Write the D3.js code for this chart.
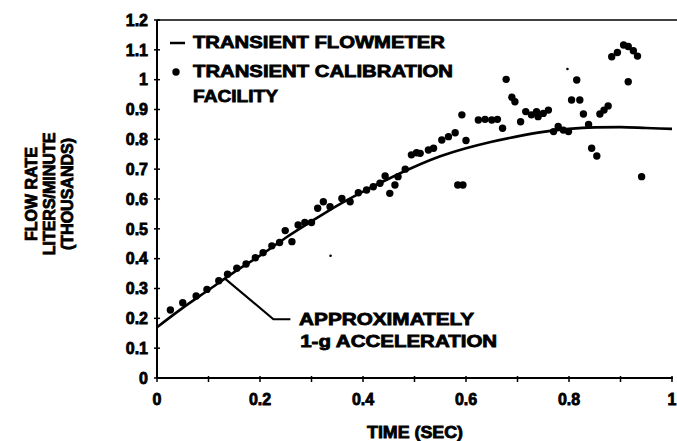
<!DOCTYPE html>
<html>
<head>
<meta charset="utf-8">
<script src="https://cdn.jsdelivr.net/npm/d3@7"></script>
<style>
  body { margin: 0; background: #fff; }
  text { font-family: "Liberation Sans", Arial, sans-serif; font-weight: bold; fill: #000; }
  .heavy { stroke: #000; stroke-width: 0.8px; }
</style>
</head>
<body>
<script>
// flowmeter curve (time in sec, flow in thousands l/min)
var fmTime = [0, 0.05, 0.1, 0.15, 0.2, 0.25, 0.3, 0.35, 0.4, 0.45, 0.5,
              0.55, 0.6, 0.65, 0.7, 0.75, 0.8, 0.85, 0.9, 0.95, 1.0];
var fmFlow = [0.17, 0.235, 0.295, 0.355, 0.41, 0.47, 0.525, 0.578, 0.625, 0.668, 0.708,
              0.743, 0.77, 0.792, 0.81, 0.825, 0.835, 0.84, 0.841, 0.838, 0.835];

// calibration facility samples
var calTime = [0.026, 0.050, 0.076, 0.097, 0.120, 0.137, 0.155, 0.173, 0.191, 0.206,
               0.223, 0.238, 0.249, 0.262, 0.274, 0.287, 0.300, 0.312, 0.323, 0.336,
               0.359, 0.375, 0.391, 0.407, 0.420, 0.433, 0.443, 0.452, 0.462, 0.468,
               0.482, 0.494, 0.504, 0.511, 0.527, 0.537, 0.553, 0.566, 0.579, 0.584,
               0.592, 0.594, 0.600, 0.624, 0.637, 0.650, 0.661, 0.671, 0.678, 0.689,
               0.695, 0.706, 0.716, 0.727, 0.737, 0.740, 0.750, 0.760, 0.770, 0.779,
               0.789, 0.799, 0.805, 0.815, 0.821, 0.828, 0.838, 0.844, 0.854, 0.860,
               0.868, 0.876, 0.883, 0.894, 0.906, 0.915, 0.925, 0.933, 0.915, 0.941];
var calFlow = [0.228, 0.252, 0.275, 0.297, 0.326, 0.348, 0.368, 0.382, 0.403, 0.420,
               0.443, 0.454, 0.494, 0.457, 0.513, 0.521, 0.521, 0.569, 0.591, 0.574,
               0.602, 0.591, 0.621, 0.630, 0.641, 0.653, 0.677, 0.619, 0.647, 0.675,
               0.700, 0.748, 0.755, 0.753, 0.764, 0.770, 0.798, 0.809, 0.822, 0.647,
               0.882, 0.647, 0.796, 0.865, 0.867, 0.865, 0.867, 0.837, 1.001, 0.941,
               0.926, 0.859, 0.893, 0.882, 0.893, 0.876, 0.887, 0.898, 0.826, 0.843,
               0.831, 0.826, 0.932, 0.999, 0.932, 0.885, 0.850, 0.770, 0.744, 0.885,
               0.898, 0.912, 1.077, 1.091, 1.116, 1.111, 1.097, 1.079, 0.993, 0.675];

// tiny specks in the scan
var speckTime = [0.337, 0.797];
var speckFlow = [0.41, 1.036];

var yTicks = [0, 0.1, 0.2, 0.3, 0.4, 0.5, 0.6, 0.7, 0.8, 0.9, 1, 1.1, 1.2];
var xTicks = [0, 0.1, 0.2, 0.3, 0.4, 0.5, 0.6, 0.7, 0.8, 0.9, 1];
var xLabels = [0, 0.2, 0.4, 0.6, 0.8, 1];

var margin = {top: 20, right: 5, bottom: 63, left: 157},
    width = 677 - margin.left - margin.right,
    height = 441 - margin.top - margin.bottom;

var svg = d3.select("body").append("svg")
    .attr("width", 677)
    .attr("height", 441);

var g = svg.append("g")
    .attr("transform", "translate(" + margin.left + "," + margin.top + ")");

var x = d3.scaleLinear().domain([0, 1]).range([0, 515]);
var y = d3.scaleLinear().domain([0, 1.2]).range([height, 0]);
var fmt = function(d) { return d3.format("~g")(d); };

// axes frame: left, bottom, top
g.append("line").attr("x1", 0).attr("x2", 0).attr("y1", 0).attr("y2", height)
    .attr("stroke", "#000").attr("stroke-width", 2);
g.append("line").attr("x1", 0).attr("x2", x(1) + 1).attr("y1", height).attr("y2", height)
    .attr("stroke", "#000").attr("stroke-width", 2);
g.append("line").attr("x1", 0).attr("x2", width + 5).attr("y1", 0).attr("y2", 0)
    .attr("stroke", "#000").attr("stroke-width", 1.5);

// y ticks
g.append("g").selectAll("line")
    .data(yTicks).enter().append("line")
    .attr("x1", -3).attr("x2", 3)
    .attr("y1", function(d) { return y(d); })
    .attr("y2", function(d) { return y(d); })
    .attr("stroke", "#000").attr("stroke-width", 1.5);

g.append("g").selectAll("text")
    .data(yTicks).enter().append("text")
    .attr("class", "heavy")
    .attr("x", -9)
    .attr("y", function(d) { return y(d); })
    .attr("dy", "0.36em")
    .attr("text-anchor", "end")
    .attr("font-size", "16px")
    .text(fmt);

// x ticks
g.append("g").selectAll("line")
    .data(xTicks).enter().append("line")
    .attr("x1", function(d) { return x(d); })
    .attr("x2", function(d) { return x(d); })
    .attr("y1", height - 2).attr("y2", height + 4)
    .attr("stroke", "#000").attr("stroke-width", 1.5);

g.append("g").selectAll("text")
    .data(xLabels).enter().append("text")
    .attr("class", "heavy")
    .attr("x", function(d) { return x(d); })
    .attr("y", height + 27)
    .attr("text-anchor", "middle")
    .attr("font-size", "16px")
    .text(fmt);

// axis titles
svg.append("text")
    .attr("class", "heavy")
    .attr("x", 415).attr("y", 438)
    .attr("text-anchor", "middle")
    .attr("font-size", "16px")
    .attr("textLength", 96)
    .attr("lengthAdjust", "spacingAndGlyphs")
    .text("TIME (SEC)");

var yTitle = [{t: "FLOW RATE", cx: 37},
              {t: "LITERS/MINUTE", cx: 55},
              {t: "(THOUSANDS)", cx: 73}];
svg.append("g").selectAll("text")
    .data(yTitle).enter().append("text")
    .attr("class", "heavy")
    .attr("transform", function(d) { return "translate(" + d.cx + ",194) rotate(-90)"; })
    .attr("text-anchor", "middle")
    .attr("font-size", "16px")
    .text(function(d) { return d.t; });

// flowmeter curve
var fm = fmTime.map(function(t, i) { return [t, fmFlow[i]]; });
var line = d3.line()
    .x(function(d) { return x(d[0]); })
    .y(function(d) { return y(d[1]); })
    .curve(d3.curveMonotoneX);

g.append("path")
    .datum(fm)
    .attr("d", line)
    .attr("fill", "none")
    .attr("stroke", "#000")
    .attr("stroke-width", 2.6);

// calibration dots
g.append("g").selectAll("circle")
    .data(calTime.map(function(t, i) { return [t, calFlow[i]]; }))
    .enter().append("circle")
    .attr("cx", function(d) { return x(d[0]); })
    .attr("cy", function(d) { return y(d[1]); })
    .attr("r", 3.7)
    .attr("fill", "#000");

g.append("g").selectAll("circle")
    .data(speckTime.map(function(t, i) { return [t, speckFlow[i]]; }))
    .enter().append("circle")
    .attr("cx", function(d) { return x(d[0]); })
    .attr("cy", function(d) { return y(d[1]); })
    .attr("r", 1.3)
    .attr("fill", "#000");

// annotation leader, starting on the curve
var aT = 0.132;
var aV = d3.scaleLinear().domain(fmTime).range(fmFlow)(aT);
var leader = [[aT, aV], [0.226, 0.197], [0.259, 0.197]];
g.append("path")
    .datum(leader)
    .attr("d", d3.line().x(function(d) { return x(d[0]); }).y(function(d) { return y(d[1]); }))
    .attr("fill", "none")
    .attr("stroke", "#000")
    .attr("stroke-width", 2.2);

g.append("text")
    .attr("class", "heavy")
    .attr("x", x(0.276)).attr("y", y(0.197) + 6)
    .attr("font-size", "17px")
    .attr("textLength", 175)
    .attr("lengthAdjust", "spacingAndGlyphs")
    .text("APPROXIMATELY");
g.append("text")
    .attr("class", "heavy")
    .attr("x", x(0.278)).attr("y", y(0.197) + 28)
    .attr("font-size", "17px")
    .attr("textLength", 197)
    .attr("lengthAdjust", "spacingAndGlyphs")
    .text("1-g ACCELERATION");

// legend
var legend = svg.append("g");
legend.append("line")
    .attr("x1", 170).attr("x2", 185).attr("y1", 43).attr("y2", 43)
    .attr("stroke", "#000").attr("stroke-width", 2.5);
legend.append("circle")
    .attr("cx", 176).attr("cy", 72).attr("r", 3.7).attr("fill", "#000");

var legendText = [{t: "TRANSIENT FLOWMETER", y: 48, len: 252},
                  {t: "TRANSIENT CALIBRATION", y: 77, len: 260},
                  {t: "FACILITY", y: 102, len: 85}];
legend.selectAll("text")
    .data(legendText).enter().append("text")
    .attr("class", "heavy")
    .attr("x", 193)
    .attr("y", function(d) { return d.y; })
    .attr("font-size", "17px")
    .attr("textLength", function(d) { return d.len; })
    .attr("lengthAdjust", "spacingAndGlyphs")
    .text(function(d) { return d.t; });
</script>
</body>
</html>
